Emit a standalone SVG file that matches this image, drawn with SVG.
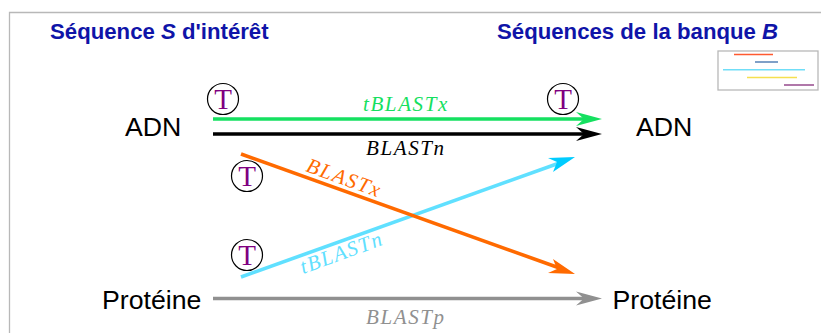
<svg xmlns="http://www.w3.org/2000/svg" width="821" height="333" viewBox="0 0 821 333">
<defs>
<style>
.h{font:bold 22.200px "Liberation Sans",Arial,sans-serif;fill:#0f14a8}
.n{font:26.700px "Liberation Sans",Arial,sans-serif;fill:#000}
.m{font:italic 21px "Liberation Serif","Times New Roman",serif;letter-spacing:1.600px}
.t{font:29px "Liberation Serif","Times New Roman",serif;fill:#800080;text-anchor:middle}
.c{fill:#fff;stroke:#000;stroke-width:1.200}
.l{fill:none;stroke-width:3.600}
</style>
</defs>
<rect width="821" height="333" fill="#fff"/>
<path d="M9.500 333V12.500H821" fill="none" stroke="#b8b8b8" stroke-width="1.300"/>
<g id="title-s"><text class="h" x="50" y="39">Séquence <tspan font-style="italic">S</tspan> d'intérêt</text></g>
<g id="title-b"><text class="h" x="497" y="39">Séquences de la banque <tspan font-style="italic">B</tspan></text></g>
<g id="mini">
<rect x="718" y="51" width="100" height="39" fill="#fff" stroke="#b8b8b8" stroke-width="1.300"/>
<path d="M734 54.500H773" stroke="#ff5a30" stroke-width="1.400"/>
<path d="M755 62H778" stroke="#4878b0" stroke-width="1.400"/>
<path d="M723 69.700H805" stroke="#70def8" stroke-width="1.400"/>
<path d="M747 77.500H797" stroke="#f5e050" stroke-width="1.400"/>
<path d="M784 85H814" stroke="#a868a0" stroke-width="1.800"/>
</g>
<g id="adn-left"><text class="n" x="125" y="136">ADN</text></g>
<g id="adn-right"><text class="n" x="636" y="136">ADN</text></g>
<g id="prot-left"><text class="n" x="102" y="309">Protéine</text></g>
<g id="prot-right"><text class="n" x="612.500" y="309">Protéine</text></g>
<g id="connectors">
<path class="l" stroke="#15e060" d="M213 119H590"/><path fill="#15e060" d="M602 119L576 112L584 119L576 126Z"/>
<path class="l" stroke="#000" d="M213 134H590"/><path fill="#000" d="M602 134L576 127L584 134L576 141Z"/>
<path class="l" stroke="#909090" d="M213 298.500H590"/><path fill="#909090" d="M602 298.500L576 291.500L584 298.500L576 305.500Z"/>
<path class="l" stroke="#60e0ff" d="M241 277L565 161"/><path fill="#00ccff" d="M575 157L548 158L557 162L553 172Z"/>
<path class="l" stroke="#ff6a00" d="M241 154L565 270"/><path fill="#ff6a00" d="M575 274L553 259L557 269L548 273Z"/>
</g>
<g id="l1"><text class="m" x="363" y="111" fill="#15e060">tBLASTx</text></g>
<g id="l2"><text class="m" x="366" y="155" fill="#000">BLASTn</text></g>
<g id="l3"><text class="m" x="366" y="324" fill="#909090">BLASTp</text></g>
<g id="l4"><text class="m" transform="translate(305 171) rotate(20)" fill="#ff6a00">BLASTx</text></g>
<g id="l5"><text class="m" transform="translate(303 274) rotate(-20)" fill="#60e0ff">tBLASTn</text></g>
<g id="t1"><circle class="c" cx="223" cy="99" r="15.500"/><text class="t" x="223" y="109">T</text></g>
<g id="t2"><circle class="c" cx="563" cy="99" r="15.500"/><text class="t" x="563" y="109">T</text></g>
<g id="t3"><circle class="c" cx="247" cy="176" r="15.500"/><text class="t" x="247" y="186">T</text></g>
<g id="t4"><circle class="c" cx="247" cy="255" r="15.500"/><text class="t" x="247" y="265">T</text></g>
</svg>
